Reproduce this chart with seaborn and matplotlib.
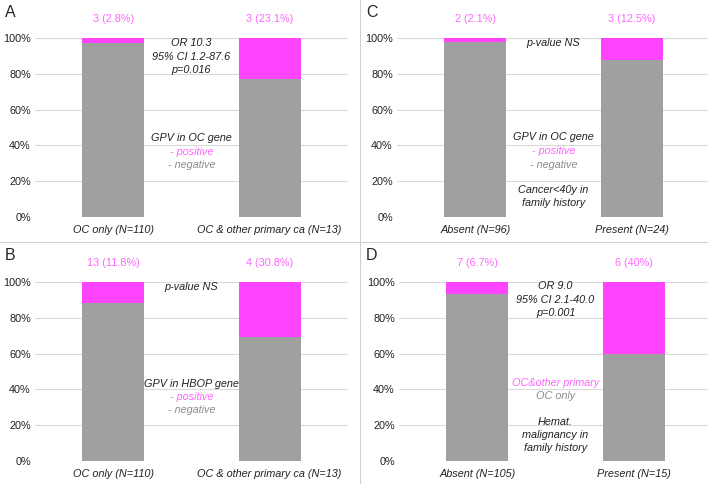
import matplotlib.pyplot as plt
import seaborn as sns
from matplotlib.lines import Line2D
from matplotlib.ticker import FuncFormatter

# --- data, one list per panel ---
cats_A = ['OC only (N=110)', 'OC & other primary ca (N=13)']
count_A = [3, 3]
pct_A = [2.8, 23.1]

cats_B = ['OC only (N=110)', 'OC & other primary ca (N=13)']
count_B = [13, 4]
pct_B = [11.8, 30.8]

cats_C = ['Absent (N=96)', 'Present (N=24)']
count_C = [2, 3]
pct_C = [2.1, 12.5]

cats_D = ['Absent (N=105)', 'Present (N=15)']
count_D = [7, 6]
pct_D = [6.7, 40]
pct_labels_D = ['6.7%', '40%']

PINK = '#FF44FF'
PINK_TXT = '#FF66FF'
GREY = '#A0A0A0'
GREY_TXT = '#8C8C8C'
INK = '#222222'
FS = 7.8

sns.set_style('white')
plt.rcParams['font.family'] = ['Liberation Sans', 'DejaVu Sans']

fig = plt.figure(figsize=(7.08, 4.84), dpi=100)
w, h = 0.442, 0.370
axA = fig.add_axes([0.0494, 0.5517, w, h])
axC = fig.add_axes([0.5607, 0.5517, w, h])
axB = fig.add_axes([0.0494, 0.0475, w, h])
axD = fig.add_axes([0.5636, 0.0475, w, h])


def draw_panel(ax, cats, counts, pcts, pct_labels=None):
    total = [100] * len(cats)
    neg = [100 - p for p in pcts]
    sns.barplot(x=cats, y=total, color=PINK, width=0.395, saturation=1,
                linewidth=0, ax=ax)
    sns.barplot(x=cats, y=neg, color=GREY, width=0.395, saturation=1,
                linewidth=0, ax=ax)
    ax.set_ylim(0, 100)
    ax.set_xlim(-0.5, 1.5)
    ax.set_yticks(range(0, 101, 20))
    ax.yaxis.set_major_formatter(FuncFormatter(lambda v, _: f'{int(v)}%'))
    ax.grid(axis='y', color='#DADADA', linewidth=0.8)
    ax.set_axisbelow(True)
    sns.despine(ax=ax, left=True, bottom=True)
    ax.tick_params(length=0, labelsize=FS, colors=INK, pad=3)
    ax.tick_params(axis='x', pad=6)
    for lab in ax.get_xticklabels():
        lab.set_fontstyle('italic')
    for i, (c, p) in enumerate(zip(counts, pcts)):
        lbl = pct_labels[i] if pct_labels else f'{p}%'
        ax.text(i, 110.5, f'{c} ({lbl})', ha='center', va='center',
                color=PINK_TXT, fontsize=FS, clip_on=False)


draw_panel(axA, cats_A, count_A, pct_A)
draw_panel(axB, cats_B, count_B, pct_B)
draw_panel(axC, cats_C, count_C, pct_C)
draw_panel(axD, cats_D, count_D, pct_D, pct_labels_D)

kw = dict(ha='center', va='center', fontsize=FS, style='italic', clip_on=False)

# panel A notes
axA.text(0.5, 89.4, 'OR 10.3\n95% CI 1.2-87.6\np=0.016', color=INK,
         linespacing=1.45, **kw)
axA.text(0.5, 44, 'GPV in OC gene', color=INK, **kw)
axA.text(0.5, 36.5, '- positive', color=PINK_TXT, **kw)
axA.text(0.5, 29, '- negative', color=GREY_TXT, **kw)

# panel B notes
axB.text(0.5, 97.2, 'p-value NS', color=INK, **kw)
axB.text(0.5, 43, 'GPV in HBOP gene', color=INK, **kw)
axB.text(0.5, 35.8, '- positive', color=PINK_TXT, **kw)
axB.text(0.5, 28.5, '- negative', color=GREY_TXT, **kw)

# panel C notes
axC.text(0.5, 97, 'p-value NS', color=INK, **kw)
axC.text(0.5, 44.7, 'GPV in OC gene', color=INK, **kw)
axC.text(0.5, 36.9, '- positive', color=PINK_TXT, **kw)
axC.text(0.5, 29, '- negative', color=GREY_TXT, **kw)
axC.text(0.5, 11.4, 'Cancer<40y in\nfamily history', color=INK,
         linespacing=1.4, **kw)

# panel D notes
axD.text(0.5, 90, 'OR 9.0\n95% CI 2.1-40.0\np=0.001', color=INK,
         linespacing=1.45, **kw)
axD.text(0.5, 43.6, 'OC&other primary', color=PINK_TXT, **kw)
axD.text(0.5, 36.3, 'OC only', color=GREY_TXT, **kw)
axD.text(0.5, 14.6, 'Hemat.\nmalignancy in\nfamily history', color=INK,
         linespacing=1.4, **kw)

# panel letters
for letter, x, y in [('A', 0.007, 0.975), ('C', 0.517, 0.975),
                     ('B', 0.007, 0.473), ('D', 0.517, 0.473)]:
    fig.text(x, y, letter, fontsize=11.5, ha='left', va='center')

# divider lines
fig.add_artist(Line2D([0.5085, 0.5085], [0, 1], transform=fig.transFigure,
                      color='#D0D0D0', linewidth=0.8))
fig.add_artist(Line2D([0, 1], [0.5, 0.5], transform=fig.transFigure,
                      color='#D0D0D0', linewidth=0.8))

fig.savefig('out.png', dpi=100)
